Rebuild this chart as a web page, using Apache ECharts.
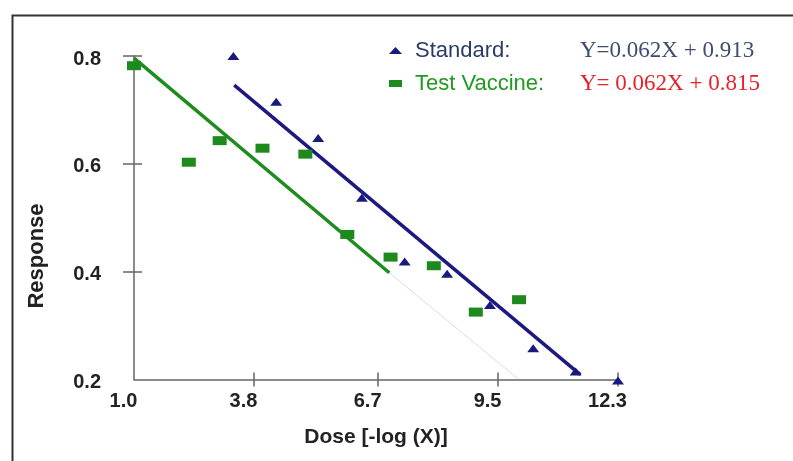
<!DOCTYPE html>
<html>
<head>
<meta charset="utf-8">
<script src="https://cdn.jsdelivr.net/npm/echarts@6/dist/echarts.min.js"></script>
<style>
html,body{margin:0;padding:0;background:#fff;}
#chart{width:793px;height:461px;}
</style>
</head>
<body>
<div id="chart"></div>
<script>
// ---- data ----
var xTickLabels = [1.0, 3.8, 6.7, 9.5, 12.3];
var yTickLabels = [0.2, 0.4, 0.6, 0.8];
var xTickMarks = [3.8, 6.7, 9.5, 12.3];
var yTickMarks = [0.4, 0.6, 0.8];

var seriesNames = ['Standard', 'Test Vaccine'];
var equations = ['Y=0.062X + 0.913', 'Y= 0.062X + 0.815'];

var stdX = [3.32, 4.32, 5.30, 6.32, 7.32, 8.31, 9.31, 10.32, 11.31, 12.30];
var stdY = [0.800, 0.715, 0.648, 0.537, 0.419, 0.396, 0.338, 0.258, 0.215, 0.198];
var testX = [1.00, 2.28, 3.00, 4.00, 5.00, 5.98, 6.99, 8.00, 8.98, 9.99];
var testY = [0.782, 0.603, 0.643, 0.629, 0.618, 0.469, 0.427, 0.411, 0.325, 0.348];

// fitted-line end points as drawn
var stdLineX = [3.34, 11.42];
var stdLineY = [0.746, 0.209];
var testLineX = [1.00, 6.96];
var testLineY = [0.796, 0.398];
var testExtX = [6.96, 9.97];
var testExtY = [0.398, 0.201];

function zip(xs, ys) { return xs.map(function (x, i) { return [x, ys[i]]; }); }

var chart = echarts.init(document.getElementById('chart'), null, { renderer: 'canvas' });

var tickFont = { fontFamily: 'Liberation Sans, Arial, sans-serif', fontWeight: 'bold', fontSize: 20, color: '#222' };

var option = {
  backgroundColor: '#fff',
  animation: false,
  grid: { left: 134, right: 175, top: 56, bottom: 81.5, containLabel: false },
  legend: {
    orient: 'vertical',
    left: 384,
    top: 34,
    itemWidth: 13,
    itemHeight: 7,
    itemGap: 10,
    selectedMode: false,
    data: [
      { name: seriesNames[0], icon: 'triangle', itemStyle: { color: '#1a1a7e' } },
      { name: seriesNames[1], icon: 'rect', itemStyle: { color: '#1e8a1e' } }
    ],
    formatter: function (name) {
      var i = seriesNames.indexOf(name);
      return '{n' + i + '|' + name + ':}{e' + i + '|' + equations[i] + '}';
    },
    textStyle: {
      rich: {
        n0: { fontFamily: 'Liberation Sans, Arial, sans-serif', fontSize: 22, color: '#2b3a67', width: 165, padding: [0, 0, 0, 8], lineHeight: 28 },
        n1: { fontFamily: 'Liberation Sans, Arial, sans-serif', fontSize: 22, color: '#1f9a1f', width: 165, padding: [0, 0, 0, 8], lineHeight: 28 },
        e0: { fontFamily: 'Liberation Serif, Times New Roman, serif', fontSize: 23, color: '#3d4d6e', lineHeight: 28 },
        e1: { fontFamily: 'Liberation Serif, Times New Roman, serif', fontSize: 23, color: '#e8202a', lineHeight: 28 }
      }
    }
  },
  xAxis: [
    {
      type: 'value', min: 1.0, max: 12.3, position: 'bottom',
      name: 'Dose [-log (X)]', nameLocation: 'middle', nameGap: 47,
      nameTextStyle: { fontFamily: 'Liberation Sans, Arial, sans-serif', fontWeight: 'bold', fontSize: 21, color: '#222' },
      splitLine: { show: false },
      axisLine: { show: true, lineStyle: { color: '#666', width: 1.5 } },
      axisTick: { show: true, inside: true, length: 7, customValues: xTickMarks, lineStyle: { color: '#666', width: 1.5 } },
      axisLabel: Object.assign({ customValues: xTickLabels, margin: 12, padding: [0, 21, 0, 0],
        formatter: function (v) { return v.toFixed(1); } }, tickFont)
    },
    {
      type: 'value', min: 1.0, max: 12.3, position: 'bottom', offset: 0,
      splitLine: { show: false },
      axisLine: { show: false },
      axisTick: { show: true, inside: false, length: 7, customValues: xTickMarks, lineStyle: { color: '#666', width: 1.5 } },
      axisLabel: { show: false }
    }
  ],
  yAxis: [
    {
      type: 'value', min: 0.2, max: 0.8, position: 'left',
      splitLine: { show: false },
      axisLine: { show: true, lineStyle: { color: '#666', width: 1.5 } },
      axisTick: { show: true, inside: false, length: 11, customValues: yTickMarks, lineStyle: { color: '#666', width: 1.5 } },
      axisLabel: Object.assign({ customValues: yTickLabels, margin: 33,
        formatter: function (v) { return '{v|' + v.toFixed(1) + '}'; },
        rich: { v: { fontFamily: 'Liberation Sans, Arial, sans-serif', fontWeight: 'bold', fontSize: 20, color: '#222', padding: [6, 0, 0, 0] } }
      }, tickFont)
    },
    {
      type: 'value', min: 0.2, max: 0.8, position: 'left', offset: 0,
      splitLine: { show: false },
      axisLine: { show: false },
      axisTick: { show: true, inside: true, length: 8, customValues: yTickMarks, lineStyle: { color: '#666', width: 1.5 } },
      axisLabel: { show: false }
    }
  ],
  graphic: [
    { type: 'rect', left: 10, top: 13, silent: true, z: -1,
      shape: { width: 800, height: 470 },
      style: { fill: 'none', stroke: '#333', lineWidth: 2 } },
    { type: 'text', x: 37, y: 256, rotation: Math.PI / 2, silent: true,
      style: { text: 'Response', fontFamily: 'Liberation Sans, Arial, sans-serif', fontWeight: 'bold', fontSize: 22,
        fill: '#222', align: 'center', verticalAlign: 'middle' } }
  ],
  series: [
    { name: 'Test extension', type: 'line', data: zip(testExtX, testExtY), symbol: 'none',
      lineStyle: { color: '#dcdcdc', width: 1 }, silent: true, z: 1 },
    { name: 'Standard fit', type: 'line', data: zip(stdLineX, stdLineY), symbol: 'none',
      lineStyle: { color: '#1c1a80', width: 3.5 }, silent: true, z: 2 },
    { name: 'Test fit', type: 'line', data: zip(testLineX, testLineY), symbol: 'none',
      lineStyle: { color: '#1e8c1e', width: 3.5 }, silent: true, z: 2 },
    { name: seriesNames[0], type: 'scatter', data: zip(stdX, stdY), symbol: 'triangle', symbolSize: [12, 8],
      clip: false, itemStyle: { color: '#1a1a7e', opacity: 1 }, z: 3 },
    { name: seriesNames[1], type: 'scatter', data: zip(testX, testY), symbol: 'rect', symbolSize: [14, 9],
      clip: false, itemStyle: { color: '#1e8a1e', opacity: 1 }, z: 3 }
  ]
};
chart.setOption(option);
</script>
</body>
</html>
